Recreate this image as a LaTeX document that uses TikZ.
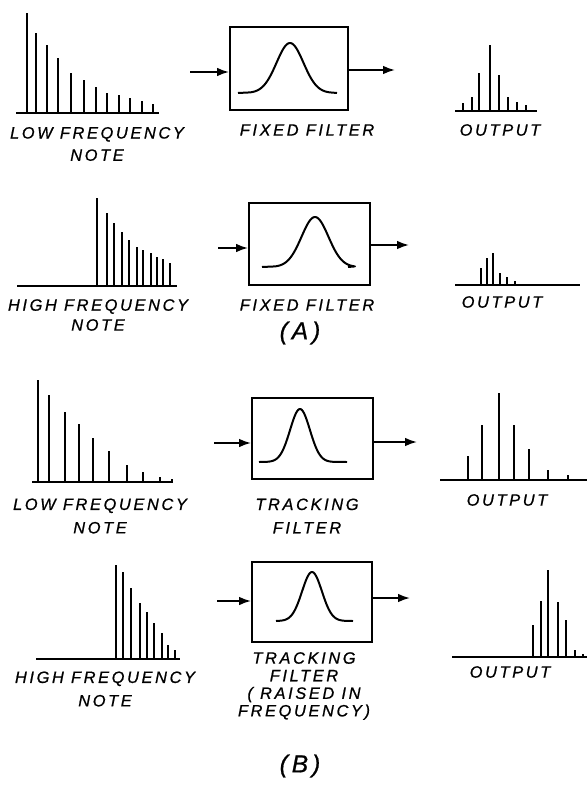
\documentclass[tikz,border=0pt]{standalone}
\usepackage{fontspec}
\newfontfamily\handfont[LetterSpace=16, FakeBold=0.8]{Liberation Sans}
\usetikzlibrary{arrows.meta, positioning}

\begin{document}
\begin{tikzpicture}[
    x=0.03cm, y=-0.03cm,
    filt/.style={rectangle, draw, line width=1.6pt, minimum width=3.6cm,
                 minimum height=2.45cm, inner sep=0pt},
    lbl/.style={font=\handfont\itshape\fontsize{14}{15}\selectfont,
                align=center, inner sep=0pt},
    tag/.style={font=\handfont\itshape\fontsize{21}{24}\selectfont, inner sep=0pt},
    arr/.style={-{Latex[length=3.6mm, width=2.6mm]}, line width=1.6pt},
    spec/.style={line width=2.4pt},
    thinspec/.style={line width=1.6pt},
    axis/.style={line width=1.7pt},
    bell/.style={line width=1.7pt, line join=round}
]
\useasboundingbox (0,0) rectangle (587,787);

%% ── (A) row 1: low note through fixed filter ──
\draw[axis] (16,113) -- (159,113);
\foreach \x/\h in {27/100, 36/80, 47/68, 58/55, 71/40, 84/33, 96/26, 107/20,
                   119/18, 130/15, 142/12, 153/9}
  \draw[spec] (\x,113) -- ++(0,-\h);

\node[filt, minimum width=3.54cm, minimum height=2.49cm] (F1) at (289,68.5) {};
\draw[bell] (238,93) -- plot[domain=250:330, samples=60]
  (\x,{93-50*exp(-((\x-290)/19)*((\x-290)/19))}) -- (337,93);

\draw[axis] (455,111) -- (537,111);
\foreach \x/\h in {463/8, 472/14, 479/38, 490/66, 499/36, 508/14, 517/9, 526/6}
  \draw[spec] (\x,111) -- ++(0,-\h);

\coordinate (a1) at (190,72);
\coordinate (b1) at (395,70);
\draw[arr] (a1) -- (a1 -| F1.west);
\draw[arr] (F1.east |- b1) -- (b1);

\node[lbl] (L1) at (97,144) {LOW FREQUENCY\\[4pt] NOTE};
\node[lbl] (T1) at (307,130) {FIXED FILTER};
\node[lbl] (O1) at (500,130) {OUTPUT};

%% ── (A) row 2: high note through fixed filter ──
\draw[axis] (17,286) -- (177,286);
\foreach \x/\h in {97/88, 107/73, 114/63, 122/54, 129/46, 137/39, 143/36,
                   151/33, 157/29, 163/27, 170/23}
  \draw[spec] (\x,286) -- ++(0,-\h);

\node[filt, minimum width=3.63cm, minimum height=2.46cm] (F2) at (309.5,244) {};
\draw[bell] (262,267) -- plot[domain=275:355, samples=60]
  (\x,{267-50*exp(-((\x-315)/19)*((\x-315)/19))}) -- (348,267);

\draw[axis] (455,285) -- (580,285);
\foreach \x/\h in {481/17, 487/27, 493/32, 500/12, 507/8, 515/4}
  \draw[spec] (\x,285) -- ++(0,-\h);

\coordinate (a2) at (218,248);
\coordinate (b2) at (409,245);
\draw[arr] (a2) -- (a2 -| F2.west);
\draw[arr] (F2.east |- b2) -- (b2);

\node[lbl] (L2) at (98,315) {HIGH FREQUENCY\\[2pt] NOTE};
\node[lbl] (T2) at (307,305) {FIXED FILTER};
\node[lbl] (O2) at (502,302) {OUTPUT};
\node[tag] (A) at (300,333) {(A)};

%% ── (B) row 3: low note through tracking filter ──
\draw[axis] (32,482) -- (173,482);
\foreach \x/\h in {38/102, 49/87, 65/70, 79/58, 93/44, 109/31, 127/17,
                   143/10, 160/5, 172/3}
  \draw[thinspec] (\x,482) -- ++(0,-\h);

\node[filt, minimum width=3.63cm, minimum height=2.43cm] (F3) at (312.5,438.5) {};
\draw[bell] (259,462) -- plot[domain=265:335, samples=60]
  (\x,{462-53*exp(-((\x-300)/14)*((\x-300)/14))}) -- (347,462);

\draw[axis] (440,480) -- (587,480);
\foreach \x/\h in {468/24, 482/55, 499/87, 514/55, 529/31, 548/10, 568/5}
  \draw[thinspec] (\x,480) -- ++(0,-\h);

\coordinate (a3) at (214,443);
\coordinate (b3) at (417,442);
\draw[arr] (a3) -- (a3 -| F3.west);
\draw[arr] (F3.east |- b3) -- (b3);

\node[lbl] (L3) at (100,516) {LOW FREQUENCY\\[5pt] NOTE};
\node[lbl] (T3) at (307,516) {TRACKING\\[5pt] FILTER};
\node[lbl] (O3) at (507,500) {OUTPUT};

%% ── (B) row 4: high note through raised tracking filter ──
\draw[axis] (36,659) -- (180,659);
\foreach \x/\h in {116/94, 123/87, 131/71, 140/56, 147/47, 154/36, 162/26,
                   168/14, 175/9}
  \draw[thinspec] (\x,659) -- ++(0,-\h);

\node[filt, minimum width=3.6cm, minimum height=2.4cm] (F4) at (312,602) {};
\draw[bell] (276,621) -- plot[domain=278:346, samples=60]
  (\x,{621-49*exp(-((\x-312)/14)*((\x-312)/14))}) -- (353,621);

\draw[axis] (452,657) -- (587,657);
\foreach \x/\h in {533/32, 541/56, 548/87, 558/55, 566/37, 575/7, 583/3}
  \draw[thinspec] (\x,657) -- ++(0,-\h);

\coordinate (a4) at (217,601);
\coordinate (b4) at (410,598);
\draw[arr] (a4) -- (a4 -| F4.west);
\draw[arr] (F4.east |- b4) -- (b4);

\node[lbl] (L4) at (105,689) {HIGH FREQUENCY\\[5pt] NOTE};
\node[lbl] (T4) at (304,686) {TRACKING\\FILTER\\( RAISED IN\\FREQUENCY)};
\node[lbl] (O4) at (510,672) {OUTPUT};
\node[tag] (B) at (300,766) {(B)};

\end{tikzpicture}
\end{document}
